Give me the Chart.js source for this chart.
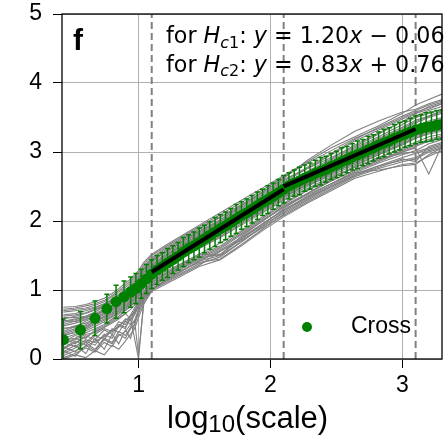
<!DOCTYPE html>
<html>
<head>
<meta charset="utf-8">
<script src="https://cdn.jsdelivr.net/npm/chart.js@4.4.0/dist/chart.umd.min.js"></script>
<style>
  body { margin: 0; background: #fff; }
  canvas { display: block; }
</style>
</head>
<body>
<canvas id="grafico" width="448" height="442"></canvas>
<script>
// ticks
var xTicks = [1, 2, 3];
var yTicks = [0, 1, 2, 3, 4, 5];

// mean of the Cross curves with its spread
var crossX = [0.43, 0.56, 0.67, 0.76, 0.83, 0.89, 0.94, 0.98, 1.02, 1.06,
  1.10, 1.14, 1.18, 1.22, 1.26, 1.30, 1.34, 1.38, 1.42, 1.46,
  1.50, 1.54, 1.58, 1.62, 1.66, 1.70, 1.74, 1.78, 1.82, 1.86,
  1.90, 1.94, 1.98, 2.02, 2.06, 2.10, 2.14, 2.18, 2.22, 2.26,
  2.30, 2.34, 2.38, 2.42, 2.46, 2.50, 2.54, 2.58, 2.62, 2.66,
  2.70, 2.74, 2.78, 2.82, 2.86, 2.90, 2.94, 2.98, 3.02, 3.06,
  3.10, 3.14, 3.18, 3.22, 3.26, 3.30];
var crossY = [0.28, 0.42, 0.59, 0.73, 0.83, 0.90, 0.97, 1.02, 1.09, 1.16,
  1.23, 1.29, 1.34, 1.39, 1.44, 1.49, 1.55, 1.60, 1.64, 1.69,
  1.74, 1.79, 1.84, 1.89, 1.93, 1.98, 2.03, 2.08, 2.12, 2.17,
  2.22, 2.27, 2.31, 2.36, 2.41, 2.46, 2.51, 2.55, 2.58, 2.62,
  2.65, 2.69, 2.72, 2.75, 2.79, 2.82, 2.86, 2.89, 2.93, 2.96,
  2.99, 3.03, 3.06, 3.10, 3.13, 3.16, 3.20, 3.23, 3.26, 3.29,
  3.32, 3.34, 3.36, 3.37, 3.39, 3.40];
var crossErr = [0.30, 0.27, 0.25, 0.21, 0.24, 0.23, 0.22, 0.22, 0.21, 0.21,
  0.21, 0.21, 0.20, 0.21, 0.20, 0.20, 0.21, 0.20, 0.20, 0.21,
  0.20, 0.20, 0.21, 0.20, 0.20, 0.20, 0.21, 0.20, 0.20, 0.20,
  0.20, 0.19, 0.20, 0.19, 0.19, 0.20, 0.19, 0.19, 0.20, 0.19,
  0.19, 0.19, 0.20, 0.19, 0.19, 0.19, 0.20, 0.19, 0.19, 0.20,
  0.19, 0.20, 0.19, 0.19, 0.20, 0.19, 0.20, 0.20, 0.19, 0.20,
  0.20, 0.20, 0.21, 0.21, 0.21, 0.21];

// individual curves
var traceX = [0.43, 0.52, 0.60, 0.67, 0.74, 0.80, 0.85, 0.90, 0.94, 0.97,
  1.00, 1.04, 1.10, 1.20, 1.32, 1.46, 1.62, 1.78, 1.94, 2.10,
  2.28, 2.46, 2.64, 2.82, 3.00, 3.10, 3.20, 3.30];
var traces = [
  [0.75,0.76,0.79,0.83,0.88,0.95,1.02,1.10,1.16,1.22,1.28,1.40,1.52,1.64,1.78,1.94,2.12,2.30,2.48,2.66,2.86,3.06,3.22,3.38,3.56,3.68,3.76,3.84],
  [0.70,0.72,0.74,0.78,0.83,0.90,0.97,1.04,1.10,1.16,1.22,1.34,1.47,1.60,1.74,1.90,2.06,2.24,2.42,2.62,2.88,3.10,3.30,3.45,3.58,3.62,3.70,3.76],
  [0.64,0.66,0.70,0.74,0.80,0.86,0.92,0.99,1.05,1.10,1.16,1.28,1.42,1.56,1.70,1.86,2.02,2.20,2.38,2.56,2.76,2.96,3.16,3.32,3.48,3.56,3.62,3.70],
  [0.58,0.62,0.66,0.71,0.76,0.82,0.88,0.94,1.00,1.06,1.12,1.24,1.38,1.52,1.66,1.82,1.99,2.16,2.34,2.52,2.70,2.88,3.06,3.22,3.40,3.50,3.56,3.62],
  [0.53,0.57,0.62,0.66,0.72,0.78,0.85,0.91,0.97,1.02,1.08,1.20,1.35,1.49,1.63,1.79,1.96,2.13,2.30,2.48,2.66,2.82,2.98,3.16,3.32,3.42,3.50,3.56],
  [0.48,0.52,0.57,0.63,0.69,0.75,0.81,0.87,0.93,0.99,1.05,1.17,1.32,1.46,1.60,1.76,1.93,2.10,2.27,2.44,2.62,2.78,2.94,3.10,3.27,3.38,3.45,3.50],
  [0.43,0.48,0.52,0.58,0.64,0.71,0.78,0.84,0.90,0.96,1.02,1.14,1.29,1.43,1.57,1.73,1.90,2.07,2.24,2.42,2.58,2.74,2.90,3.06,3.22,3.32,3.40,3.44],
  [0.38,0.44,0.48,0.54,0.61,0.67,0.74,0.80,0.86,0.92,0.99,1.11,1.26,1.40,1.54,1.70,1.87,2.04,2.22,2.40,2.55,2.70,2.86,3.02,3.18,3.28,3.34,3.38],
  [0.33,0.40,0.45,0.52,0.58,0.64,0.70,0.77,0.83,0.89,0.96,1.08,1.24,1.38,1.53,1.68,1.84,2.02,2.20,2.37,2.56,2.73,2.88,3.00,3.14,3.24,3.30,3.34],
  [0.30,0.36,0.41,0.47,0.54,0.61,0.67,0.74,0.80,0.86,0.93,1.05,1.21,1.34,1.48,1.64,1.80,1.98,2.16,2.34,2.52,2.66,2.82,2.96,3.10,3.20,3.26,3.30],
  [0.25,0.34,0.30,0.42,0.48,0.56,0.62,0.70,0.76,0.82,0.90,1.02,1.18,1.31,1.45,1.60,1.76,1.94,2.12,2.30,2.47,2.64,2.78,2.92,3.06,3.14,3.22,3.26],
  [0.22,0.28,0.36,0.38,0.46,0.52,0.58,0.66,0.72,0.78,0.86,0.98,1.14,1.26,1.38,1.52,1.50,1.78,2.00,2.22,2.40,2.58,2.74,2.88,3.00,3.08,3.16,3.20],
  [0.18,0.10,0.26,0.20,0.36,0.30,0.48,0.44,0.62,0.70,0.80,0.94,1.10,1.22,1.34,1.48,1.62,1.82,2.02,2.20,2.38,2.54,2.70,2.84,2.96,3.02,3.12,3.18],
  [0.10,0.20,0.08,0.30,0.14,0.36,0.22,0.42,0.30,0.52,0.70,0.88,1.05,1.16,1.28,1.40,1.45,1.66,1.88,2.10,2.30,2.48,2.66,2.78,2.90,2.86,3.08,3.14],
  [0.14,0.24,0.32,0.40,0.46,0.54,0.60,0.66,0.58,0.30,0.00,0.86,1.02,1.12,1.24,1.38,1.48,1.70,1.92,2.14,2.34,2.52,2.70,2.74,2.80,2.82,2.96,3.06],
  [0.05,0.12,0.18,0.26,0.32,0.40,0.48,0.56,0.62,0.68,0.76,0.90,1.06,1.18,1.30,1.44,1.58,1.76,1.96,2.16,2.36,2.54,2.72,2.86,3.00,3.06,2.68,3.10],
  [0.02,0.08,0.16,0.10,0.24,0.18,0.34,0.40,0.50,0.56,0.06,0.80,1.00,1.10,1.22,1.36,1.56,1.74,1.94,2.18,2.40,2.60,2.80,2.96,3.12,3.20,3.28,3.34],
  [0.60,0.60,0.62,0.68,0.76,0.84,0.90,0.96,1.04,1.12,1.18,1.30,1.44,1.54,1.68,1.84,2.02,2.22,2.42,2.60,2.76,2.92,3.08,3.26,3.44,3.56,3.66,3.72],
  [0.56,0.54,0.58,0.60,0.66,0.72,0.79,0.86,0.92,0.98,1.04,1.16,1.30,1.44,1.58,1.76,1.94,2.12,2.30,2.50,2.68,2.86,3.02,3.18,3.34,3.44,3.52,3.58],
  [0.36,0.42,0.50,0.56,0.60,0.66,0.72,0.78,0.84,0.90,0.96,1.08,1.22,1.36,1.50,1.66,1.84,2.00,2.18,2.36,2.54,2.70,2.84,3.00,3.16,3.26,3.32,3.36],
  [0.68,0.70,0.72,0.75,0.80,0.87,0.94,1.01,1.07,1.13,1.19,1.31,1.45,1.58,1.72,1.88,2.05,2.22,2.40,2.58,2.78,2.98,3.18,3.36,3.52,3.60,3.68,3.74],
  [0.50,0.55,0.60,0.64,0.70,0.76,0.83,0.89,0.95,1.01,1.07,1.19,1.34,1.48,1.62,1.78,1.95,2.12,2.29,2.46,2.63,2.80,2.96,3.12,3.28,3.36,3.42,3.48],
  [0.45,0.46,0.55,0.60,0.67,0.73,0.80,0.86,0.92,0.98,1.03,1.15,1.30,1.45,1.59,1.75,1.92,2.09,2.26,2.43,2.60,2.76,2.92,3.08,3.24,3.34,3.42,3.46],
  [0.40,0.47,0.46,0.55,0.62,0.69,0.76,0.82,0.88,0.94,1.00,1.12,1.27,1.41,1.55,1.71,1.88,2.05,2.23,2.41,2.58,2.74,2.90,3.04,3.20,3.30,3.36,3.40],
  [0.27,0.30,0.38,0.44,0.50,0.58,0.65,0.72,0.78,0.84,0.91,1.04,1.19,1.33,1.47,1.62,1.78,1.96,2.14,2.32,2.50,2.68,2.84,2.98,3.12,3.22,3.28,3.32],
  [0.16,0.26,0.20,0.34,0.28,0.44,0.38,0.55,0.50,0.66,0.78,0.92,1.08,1.20,1.33,1.46,1.52,1.74,1.96,2.16,2.34,2.50,2.66,2.80,2.92,2.98,3.04,3.10],
  [0.08,0.16,0.24,0.14,0.30,0.24,0.40,0.34,0.46,0.56,0.72,0.86,1.00,1.13,1.26,1.42,1.56,1.72,1.90,2.08,2.28,2.46,2.64,2.76,2.86,2.90,3.00,3.06],
  [0.62,0.64,0.67,0.72,0.78,0.85,0.92,0.98,1.03,1.08,1.14,1.26,1.40,1.55,1.69,1.84,2.00,2.18,2.36,2.54,2.72,2.90,3.10,3.28,3.44,3.52,3.60,3.66],
  [0.72,0.74,0.77,0.80,0.85,0.92,0.99,1.07,1.13,1.19,1.25,1.37,1.50,1.62,1.76,1.92,2.09,2.27,2.45,2.64,2.84,3.02,3.20,3.34,3.50,3.58,3.64,3.70],
  [0.35,0.38,0.43,0.50,0.56,0.62,0.69,0.75,0.81,0.87,0.94,1.06,1.20,1.35,1.50,1.65,1.82,1.99,2.17,2.35,2.53,2.69,2.86,3.02,3.18,3.30,3.38,3.42],
  [0.20,0.30,0.24,0.36,0.44,0.40,0.54,0.50,0.64,0.74,0.84,0.97,1.12,1.24,1.36,1.50,1.64,1.84,2.04,2.24,2.44,2.62,2.78,2.90,2.98,3.00,3.06,3.12],
  [0.55,0.58,0.60,0.65,0.70,0.77,0.83,0.89,0.96,1.02,1.08,1.21,1.36,1.50,1.64,1.80,1.97,2.15,2.33,2.52,2.70,2.86,3.04,3.20,3.36,3.46,3.52,3.60],
  [0.12,0.04,0.20,0.12,0.28,0.22,0.36,0.30,0.44,0.50,0.66,0.84,1.02,1.14,1.27,1.42,1.50,1.70,1.92,2.12,2.32,2.50,2.68,2.80,2.88,2.92,3.02,3.08],
  [0.30,0.22,0.34,0.28,0.42,0.36,0.50,0.46,0.58,0.64,0.76,0.90,1.06,1.18,1.31,1.46,1.60,1.80,2.00,2.20,2.40,2.58,2.74,2.88,3.02,3.10,3.16,3.22],
  [0.00,0.06,0.02,0.12,0.06,0.20,0.14,0.26,0.36,0.44,0.60,0.80,0.98,1.08,1.20,1.34,1.44,1.64,1.86,2.06,2.26,2.44,2.62,2.72,2.82,2.84,2.94,3.02],
  [0.24,0.18,0.28,0.24,0.34,0.42,0.46,0.58,0.56,0.70,0.82,0.95,1.10,1.23,1.37,1.52,1.68,1.86,2.06,2.26,2.45,2.62,2.78,2.92,3.04,3.12,3.18,3.24]
];

// crossover positions and the two linear fits
var breaks = [1.1, 2.1, 3.1];
var fitSlope = [1.20, 0.83];
var fitIntercept = [-0.06, 0.76];
var fitNames = ['c1', 'c2'];

var green = 'green';
var family = '"Liberation Sans", Arial, sans-serif';
var mathFamily = '"DejaVu Sans", sans-serif';

var datasets = [];

traces.forEach(function (ys) {
  datasets.push({
    data: ys.map(function (y, i) { return { x: traceX[i], y: y }; }),
    showLine: true,
    borderColor: '#808080',
    borderWidth: 1.1,
    pointRadius: 0,
    clip: 0,
    order: 5
  });
});

breaks.forEach(function (b) {
  datasets.push({
    data: [{ x: b, y: 0 }, { x: b, y: 5 }],
    showLine: true,
    borderColor: '#808080',
    borderWidth: 2,
    borderDash: [7, 4],
    pointRadius: 0,
    clip: 0,
    order: 4
  });
});

var crossIndex = datasets.length;
datasets.push({
  label: 'Cross',
  data: crossX.map(function (x, i) { return { x: x, y: crossY[i] }; }),
  errors: crossErr,
  showLine: false,
  pointRadius: 5.5,
  pointBackgroundColor: green,
  pointBorderWidth: 0,
  clip: 0,
  order: 3
});

// fitted segments between the crossover points
fitSlope.forEach(function (m, k) {
  var a = breaks[k], b = breaks[k + 1];
  datasets.push({
    data: [{ x: a, y: m * a + fitIntercept[k] }, { x: b, y: m * b + fitIntercept[k] }],
    showLine: true,
    borderColor: '#000',
    borderWidth: 4,
    pointRadius: 0,
    clip: 0,
    order: 1
  });
});

// draw a run of text pieces one after another, return the end x
function drawPieces(ctx, pieces, x, y, measureOnly) {
  pieces.forEach(function (p) {
    ctx.font = p.font;
    if (!measureOnly) ctx.fillText(p.t, x, y + (p.dy || 0));
    x += ctx.measureText(p.t).width;
  });
  return x;
}

function equationPieces(k, size) {
  var m = fitSlope[k], b = fitIntercept[k];
  var sub = Math.round(size * 0.7);
  var sign = b < 0 ? ' \u2212 ' : ' + ';
  return [
    { t: 'for ', font: size + 'px ' + mathFamily },
    { t: 'H', font: 'italic ' + size + 'px ' + mathFamily },
    { t: fitNames[k].charAt(0), font: 'italic ' + sub + 'px ' + mathFamily, dy: size * 0.22 },
    { t: fitNames[k].charAt(1), font: sub + 'px ' + mathFamily, dy: size * 0.22 },
    { t: ': ', font: size + 'px ' + mathFamily },
    { t: 'y', font: 'italic ' + size + 'px ' + mathFamily },
    { t: ' = ' + m.toFixed(2), font: size + 'px ' + mathFamily },
    { t: 'x', font: 'italic ' + size + 'px ' + mathFamily },
    { t: sign + Math.abs(b).toFixed(2), font: size + 'px ' + mathFamily }
  ];
}

var errorBars = {
  id: 'errorBars',
  beforeDatasetDraw: function (chart, args) {
    var ds = chart.data.datasets[args.index];
    if (!ds.errors) return;
    var ctx = chart.ctx, a = chart.chartArea;
    var xs = chart.scales.x, ys = chart.scales.y;
    ctx.save();
    ctx.beginPath();
    ctx.rect(a.left, a.top, a.right - a.left, a.bottom - a.top);
    ctx.clip();
    ctx.strokeStyle = green;
    ctx.lineWidth = 1.5;
    ds.data.forEach(function (p, i) {
      var px = xs.getPixelForValue(p.x);
      var top = ys.getPixelForValue(p.y + ds.errors[i]);
      var bot = ys.getPixelForValue(p.y - ds.errors[i]);
      ctx.beginPath();
      ctx.moveTo(px, top); ctx.lineTo(px, bot);
      ctx.moveTo(px - 2.5, top); ctx.lineTo(px + 2.5, top);
      ctx.moveTo(px - 2.5, bot); ctx.lineTo(px + 2.5, bot);
      ctx.stroke();
    });
    ctx.restore();
  }
};

var decor = {
  id: 'decor',
  afterDatasetsDraw: function (chart) {
    var ctx = chart.ctx, a = chart.chartArea;
    ctx.save();
    ctx.strokeStyle = '#000';
    ctx.lineWidth = 1.3;
    ctx.strokeRect(a.left, a.top, a.right - a.left, a.bottom - a.top);
    ctx.restore();
  },
  afterDraw: function (chart) {
    var ctx = chart.ctx;
    ctx.save();
    ctx.fillStyle = '#000';
    ctx.textBaseline = 'alphabetic';
    ctx.textAlign = 'left';

    // panel letter
    ctx.font = 'bold 30px ' + family;
    ctx.fillText('f', 73, 50);

    // fit equations, sized so the longer one ends near the right edge
    var w0 = drawPieces(ctx, equationPieces(0, 23), 0, 0, true);
    var size = Math.min(23, 23 * 278 / w0);
    fitSlope.forEach(function (m, k) {
      drawPieces(ctx, equationPieces(k, size), 166, 43 + k * 28.5);
    });

    // x axis title
    drawPieces(ctx, [
      { t: 'log', font: '31px ' + family },
      { t: '10', font: '24px ' + family, dy: 3.5 },
      { t: '(scale)', font: '31px ' + family }
    ], 167, 428);

    // legend
    ctx.fillStyle = green;
    ctx.beginPath();
    ctx.arc(307, 327, 5, 0, Math.PI * 2);
    ctx.fill();
    ctx.fillStyle = '#000';
    ctx.font = '23px ' + family;
    ctx.fillText(chart.data.datasets[crossIndex].label, 351, 333);
    ctx.restore();
  }
};

var ctx = document.getElementById('grafico').getContext('2d');
var chart = new Chart(ctx, {
  type: 'scatter',
  data: { datasets: datasets },
  options: {
    responsive: false,
    animation: false,
    devicePixelRatio: 1,
    layout: { padding: { top: 14, right: 6, left: 0, bottom: 0 } },
    plugins: {
      legend: { display: false },
      tooltip: { enabled: false }
    },
    scales: {
      x: {
        type: 'linear',
        min: 0.42,
        max: 3.3,
        afterBuildTicks: function (s) { s.ticks = xTicks.map(function (v) { return { value: v }; }); },
        afterFit: function (s) { s.height = 83; s.paddingLeft = 0; s.paddingRight = 0; },
        grid: { color: '#b0b0b0', lineWidth: 1, tickColor: '#000', tickLength: 9 },
        border: { display: false },
        ticks: { color: '#000', font: { family: family, size: 23 }, padding: 4, maxRotation: 0 }
      },
      y: {
        type: 'linear',
        min: 0,
        max: 5,
        afterBuildTicks: function (s) { s.ticks = yTicks.map(function (v) { return { value: v }; }); },
        afterFit: function (s) { s.width = 62; s.paddingTop = 0; s.paddingBottom = 0; },
        grid: { color: '#b0b0b0', lineWidth: 1, tickColor: '#000', tickLength: 9 },
        border: { display: false },
        ticks: { color: '#000', font: { family: family, size: 23 }, padding: 11 }
      }
    }
  },
  plugins: [errorBars, decor]
});
</script>
</body>
</html>
